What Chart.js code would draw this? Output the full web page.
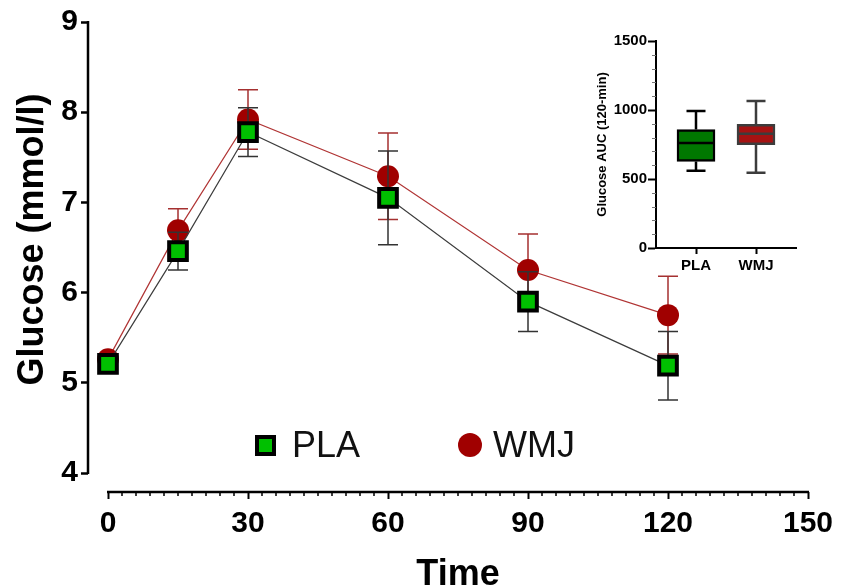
<!DOCTYPE html>
<html>
<head>
<meta charset="utf-8">
<script src="https://cdn.jsdelivr.net/npm/chart.js@4.4.1/dist/chart.umd.min.js"></script>
<style>
  html, body { margin: 0; padding: 0; background: #fff; }
  #wrap { position: relative; width: 850px; height: 588px; font-family: "Liberation Sans", Arial, sans-serif; }
  #glucoseChart { position: absolute; left: 0; top: 0; }
  #aucChart { position: absolute; left: 570px; top: 20px; }
  #glucoseChart-legend { position: absolute; left: 255px; top: 427px; }
  #glucoseChart-legend ul { list-style: none; margin: 0; padding: 0; display: flex; align-items: center; }
  #glucoseChart-legend li { display: flex; align-items: center; font-size: 36px; line-height: 36px; color: #111; margin-right: 98px; }
  #glucoseChart-legend span.rect { width: 13px; height: 13px; border: 4px solid #000; margin-right: 16px; }
  #glucoseChart-legend span.circle { width: 24px; height: 24px; border-radius: 50%; margin-right: 11px; }
</style>
</head>
<body>
<div id="wrap">
  <canvas id="glucoseChart" width="850" height="588"></canvas>
  <div id="glucoseChart-legend"></div>
  <canvas id="aucChart" width="240" height="270"></canvas>
</div>
<script>
// main plot: glucose over time (mean, error)
const timePoints = [0, 15, 30, 60, 90, 120];
const plaMean = [5.21, 6.46, 7.78, 7.05, 5.90, 5.19];
const plaErr  = [0.05, 0.21, 0.27, 0.52, 0.33, 0.38];
const wmjMean = [5.26, 6.69, 7.92, 7.29, 6.25, 5.75];
const wmjErr  = [0.05, 0.24, 0.33, 0.48, 0.40, 0.43];
const glucoseTicks = [4, 5, 6, 7, 8, 9];
const timeTicks = [0, 30, 60, 90, 120, 150];
const timeMinorStep = 3;

// inset: AUC box plot
const aucGroups = ['PLA', 'WMJ'];
const aucMin    = [560, 546];
const aucQ1     = [627, 748];
const aucMedian = [760, 827];
const aucQ3     = [858, 897];
const aucMax    = [993, 1065];
const aucTicks = [0, 500, 1000, 1500];
const aucMinorStep = 100;

Chart.defaults.font.family = '"Liberation Sans", Arial, sans-serif';
Chart.defaults.color = '#000';

const FONT = '"Liberation Sans", Arial, sans-serif';

// error bars drawn right before each dataset, so markers sit on top
const errorBars = {
  id: 'errorBars',
  beforeDatasetDraw(chart, args) {
    const ds = chart.data.datasets[args.index];
    const {ctx, scales: {x, y}} = chart;
    ctx.save();
    ctx.strokeStyle = ds.errorColor;
    ctx.lineWidth = 1.5;
    ds.data.forEach((p, i) => {
      const px = x.getPixelForValue(p.x);
      const top = y.getPixelForValue(p.y + ds.err[i]);
      const bot = y.getPixelForValue(p.y - ds.err[i]);
      ctx.beginPath();
      ctx.moveTo(px, top); ctx.lineTo(px, bot);
      ctx.moveTo(px - 10, top); ctx.lineTo(px + 10, top);
      ctx.moveTo(px - 10, bot); ctx.lineTo(px + 10, bot);
      ctx.stroke();
    });
    ctx.restore();
  }
};

// detached axis lines, minor ticks and titles
const axisDecor = {
  id: 'axisDecor',
  afterDraw(chart) {
    const {ctx, chartArea, scales: {x, y}} = chart;
    const yTop = y.getPixelForValue(glucoseTicks[glucoseTicks.length - 1]);
    const yBot = y.getPixelForValue(glucoseTicks[0]);
    const x0 = x.getPixelForValue(timeTicks[0]);
    const x1 = x.getPixelForValue(timeTicks[timeTicks.length - 1]);
    ctx.save();
    ctx.strokeStyle = '#000';
    ctx.lineWidth = 2.5;
    ctx.beginPath();
    ctx.moveTo(chartArea.left, yTop - 1); ctx.lineTo(chartArea.left, yBot + 1);
    ctx.moveTo(x0 - 1, chartArea.bottom); ctx.lineTo(x1 + 1, chartArea.bottom);
    ctx.stroke();
    ctx.lineWidth = 1.5;
    ctx.beginPath();
    for (let v = timeTicks[0]; v <= timeTicks[timeTicks.length - 1]; v += timeMinorStep) {
      if (timeTicks.includes(v)) continue;
      const px = x.getPixelForValue(v);
      ctx.moveTo(px, chartArea.bottom); ctx.lineTo(px, chartArea.bottom + 4);
    }
    ctx.stroke();

    ctx.fillStyle = '#000';
    ctx.font = 'bold 36px ' + FONT;
    ctx.textAlign = 'center';
    ctx.textBaseline = 'alphabetic';
    ctx.fillText('Time', (x0 + x1) / 2, 585);
    ctx.translate(43, (yTop + yBot) / 2 - 8);
    ctx.rotate(-Math.PI / 2);
    ctx.fillText('Glucose (mmol/l)', 0, 0);
    ctx.restore();
  }
};

const htmlLegend = {
  id: 'htmlLegend',
  afterUpdate(chart) {
    const box = document.getElementById(chart.canvas.id + '-legend');
    const ul = document.createElement('ul');
    chart.data.datasets.forEach(ds => {
      const shape = ds.pointStyle === 'rect' ? 'rect' : 'circle';
      ul.innerHTML += `<li><span class="${shape}" style="background-color: ${ds.pointBackgroundColor}"></span>${ds.label}</li>`;
    });
    box.innerHTML = '';
    box.appendChild(ul);
  }
};

const pxPerMin = 700 / 150;
const pxPerUnit = 451 / 5;

new Chart(document.getElementById('glucoseChart'), {
  type: 'line',
  data: {
    datasets: [{
      label: 'PLA',
      data: timePoints.map((t, i) => ({x: t, y: plaMean[i]})),
      err: plaErr,
      errorColor: '#333',
      borderColor: '#3c3c3c',
      borderWidth: 1.2,
      pointStyle: 'rect',
      pointRadius: 12.5,
      pointBorderWidth: 4,
      pointBackgroundColor: '#00c000',
      pointBorderColor: '#000'
    }, {
      label: 'WMJ',
      data: timePoints.map((t, i) => ({x: t, y: wmjMean[i]})),
      err: wmjErr,
      errorColor: '#a53030',
      borderColor: '#b03434',
      borderWidth: 1.2,
      pointStyle: 'circle',
      pointRadius: 11,
      pointBorderWidth: 0,
      pointBackgroundColor: '#a00000',
      pointBorderColor: '#a00000'
    }]
  },
  options: {
    responsive: false,
    animation: false,
    layout: { padding: { top: 22, right: 42, left: 0, bottom: 0 } },
    scales: {
      x: {
        type: 'linear',
        min: timeTicks[0] - 20 / pxPerMin,
        max: timeTicks[timeTicks.length - 1],
        afterBuildTicks: s => { s.ticks = timeTicks.map(v => ({value: v})); },
        afterFit: s => { s.height = 96; },
        border: { display: false },
        grid: { drawOnChartArea: false, tickLength: 7, tickWidth: 2, tickColor: '#000' },
        ticks: { color: '#000', font: { size: 30, weight: 'bold' }, padding: 7, maxRotation: 0, autoSkip: false }
      },
      y: {
        min: glucoseTicks[0] - 19 / pxPerUnit,
        max: glucoseTicks[glucoseTicks.length - 1],
        afterBuildTicks: s => { s.ticks = glucoseTicks.map(v => ({value: v})); },
        afterFit: s => { s.width = 88; },
        border: { display: false },
        grid: { drawOnChartArea: false, tickLength: 7, tickWidth: 2.5, tickColor: '#000' },
        ticks: { color: '#000', font: { size: 30, weight: 'bold' }, padding: 3 }
      }
    },
    plugins: {
      legend: { display: false },
      tooltip: { enabled: false }
    }
  },
  plugins: [errorBars, axisDecor, htmlLegend]
});

// whiskers, medians and minor ticks for the inset
const boxWhiskers = {
  id: 'boxWhiskers',
  afterDatasetsDraw(chart) {
    const {ctx, chartArea, scales: {x, y}} = chart;
    const colors = chart.data.datasets[0].borderColor;
    ctx.save();
    ctx.lineWidth = 2.5;
    aucGroups.forEach((g, i) => {
      const cx = x.getPixelForValue(i + 1);
      ctx.strokeStyle = colors[i];
      ctx.beginPath();
      ctx.moveTo(cx, y.getPixelForValue(aucMax[i])); ctx.lineTo(cx, y.getPixelForValue(aucQ3[i]));
      ctx.moveTo(cx, y.getPixelForValue(aucQ1[i])); ctx.lineTo(cx, y.getPixelForValue(aucMin[i]));
      ctx.moveTo(cx - 9.5, y.getPixelForValue(aucMax[i])); ctx.lineTo(cx + 9.5, y.getPixelForValue(aucMax[i]));
      ctx.moveTo(cx - 9.5, y.getPixelForValue(aucMin[i])); ctx.lineTo(cx + 9.5, y.getPixelForValue(aucMin[i]));
      ctx.moveTo(cx - 18, y.getPixelForValue(aucMedian[i])); ctx.lineTo(cx + 18, y.getPixelForValue(aucMedian[i]));
      ctx.stroke();
    });
    ctx.strokeStyle = '#777';
    ctx.lineWidth = 1.2;
    ctx.beginPath();
    for (let v = aucTicks[0]; v <= aucTicks[aucTicks.length - 1]; v += aucMinorStep) {
      if (aucTicks.includes(v)) continue;
      const py = Math.round(y.getPixelForValue(v)) + 0.5;
      ctx.moveTo(chartArea.left, py); ctx.lineTo(chartArea.left - 4, py);
    }
    ctx.stroke();
    ctx.restore();
  }
};

new Chart(document.getElementById('aucChart'), {
  type: 'bar',
  data: {
    datasets: [{
      data: aucGroups.map((g, i) => ({x: i + 1, y: [aucQ1[i], aucQ3[i]]})),
      backgroundColor: ['#007800', '#a51212'],
      borderColor: ['#000', '#3c3c3c'],
      borderWidth: 2.5,
      borderSkipped: false,
      barThickness: 38
    }]
  },
  options: {
    responsive: false,
    animation: false,
    layout: { padding: { top: 21, right: 14, left: 0, bottom: 0 } },
    scales: {
      x: {
        type: 'linear',
        offset: false,
        min: 1 - 40 / 60,
        max: aucGroups.length + 40 / 60,
        afterBuildTicks: s => { s.ticks = aucGroups.map((g, i) => ({value: i + 1})); },
        afterFit: s => { s.height = 42; },
        border: { color: '#000', width: 2 },
        grid: { offset: false, drawOnChartArea: false, tickLength: 6, tickWidth: 2, tickColor: '#000' },
        ticks: {
          color: '#000', font: { size: 15, weight: 'bold' }, padding: 3, maxRotation: 0, autoSkip: false,
          callback: v => aucGroups[v - 1]
        }
      },
      y: {
        min: aucTicks[0],
        max: aucTicks[aucTicks.length - 1],
        afterBuildTicks: s => { s.ticks = aucTicks.map(v => ({value: v})); },
        afterFit: s => { s.width = 86; },
        border: { color: '#000', width: 2 },
        grid: { drawOnChartArea: false, tickLength: 8, tickWidth: 2, tickColor: '#000' },
        ticks: { color: '#000', font: { size: 15, weight: 'bold' }, padding: 1, callback: v => String(v) },
        title: {
          display: true,
          text: 'Glucose AUC (120-min)',
          color: '#000',
          font: { size: 13, weight: 'bold' },
          padding: { top: 25, bottom: 0 }
        }
      }
    },
    plugins: {
      legend: { display: false },
      tooltip: { enabled: false }
    }
  },
  plugins: [boxWhiskers]
});
</script>
</body>
</html>
